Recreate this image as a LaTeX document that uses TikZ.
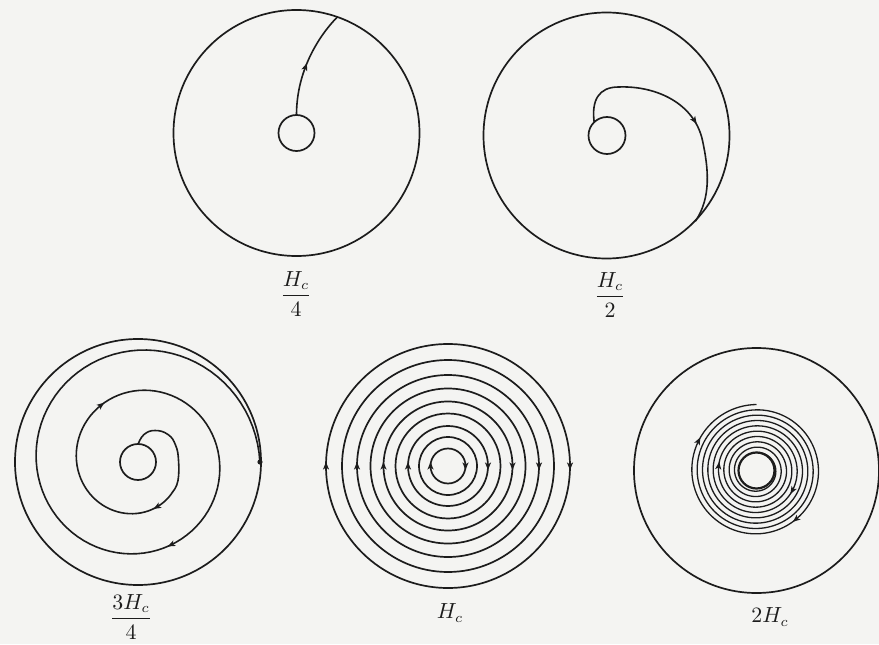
\documentclass[tikz,border=0pt]{standalone}
\usepackage{amsmath}
\definecolor{ink}{RGB}{28,28,28}
\definecolor{paper}{RGB}{244,244,242}
\newcommand{\tipat}[3]{\fill[shift={(#1)},rotate=#3] (4,0) -- (-3.6,3.1) -- (-1.6,0) -- (-3.6,-3.1) -- cycle;}
\begin{document}
\begin{tikzpicture}[x=0.5pt,y=0.5pt,color=ink,
  wall/.style={line width=0.85pt},
  flux/.style={line width=0.8pt},
  fine/.style={line width=0.65pt},
  lab/.style={font=\fontsize{10.5}{12}\selectfont,inner sep=0pt}]
\fill[paper] (0,0) rectangle (879,644);
\useasboundingbox (0,0) rectangle (879,644);

% ---------- H_c/4 ----------
\begin{scope}[shift={(296.5,511)}]
  \draw[wall] (0,0) circle (123);
  \draw[wall] (0,0) circle (18);
  \draw[flux] (0,18) .. controls (0,65) and (25,100) .. (70.6:123);
  \tipat{9,66}{}{70}
\end{scope}

% ---------- H_c/2 ----------
\begin{scope}[shift={(606.5,508.5)}]
  \draw[wall] (0,0) circle (123);
  \draw[wall] (0.5,0) circle (18.5);
  \draw[flux] (132:18.5) .. controls (-15,35) and (-8,48.5) .. (12,48.5)
     .. controls (50,50) and (88,32) .. (96,-5)
     .. controls (102,-33) and (105,-62) .. (-44:123.5);
  \tipat{88,15}{}{-57}
\end{scope}

% ---------- 3H_c/4 ----------
\begin{scope}[shift={(138,182)}]
  \draw[wall] (0,0) circle (123);
  \draw[wall] (0,0) circle (18);
  \draw[flux] plot[smooth,tension=0.75] coordinates {(0.3,18.2) (6,27.5) (17,31.5) (30,27.5) (37.5,17) (40.5,2) (-25:44.1) (-40:45.73)}
     -- plot[domain=40:720,samples=160] ({-\x}:{61.3+0.112*(\x-179)});
  \fill (0:122) circle (2.6);
  \tipat{-67:48.8}{}{-150}
  \tipat{123:67.8}{}{38}
  \tipat{-68:89.2}{}{-154}
\end{scope}

% ---------- H_c ----------
\begin{scope}[shift={(448,178)}]
  \foreach \r in {17.5,29,40,52.5,64.5,77.5,91,106,122}
    \draw[wall] (0,0) circle (\r);
  \foreach \r in {17.5,40,64.5,91,122}{
    \tipat{180:\r}{}{90}
    \tipat{0:\r}{}{-90}
  }
\end{scope}

% ---------- 2H_c ----------
\begin{scope}[shift={(756.5,173.5)}]
  \draw[wall] (0,0) circle (122.5);
  \draw[line width=1.1pt] (0,0) circle (18);
  \draw[fine] plot[domain=0:3240,samples=900] ({90-\x}:{18+\x/67.5});
  \tipat{153:65.07}{}{63}
  \tipat{173:38.1}{}{83}
  \tipat{-29:41.1}{}{-119}
  \tipat{-51:62.76}{}{-141}
\end{scope}

% ---------- labels ----------
\node[lab] (lA) at (296,350) {$\dfrac{H_c}{4}$};
\node[lab] (lB) at (610,349) {$\dfrac{H_c}{2}$};
\node[lab] (lC) at (131,27) {$\dfrac{3H_c}{4}$};
\node[lab] (lD) at (450,31) {$H_c$};
\node[lab] (lE) at (770,27) {$2H_c$};
\end{tikzpicture}
\end{document}
